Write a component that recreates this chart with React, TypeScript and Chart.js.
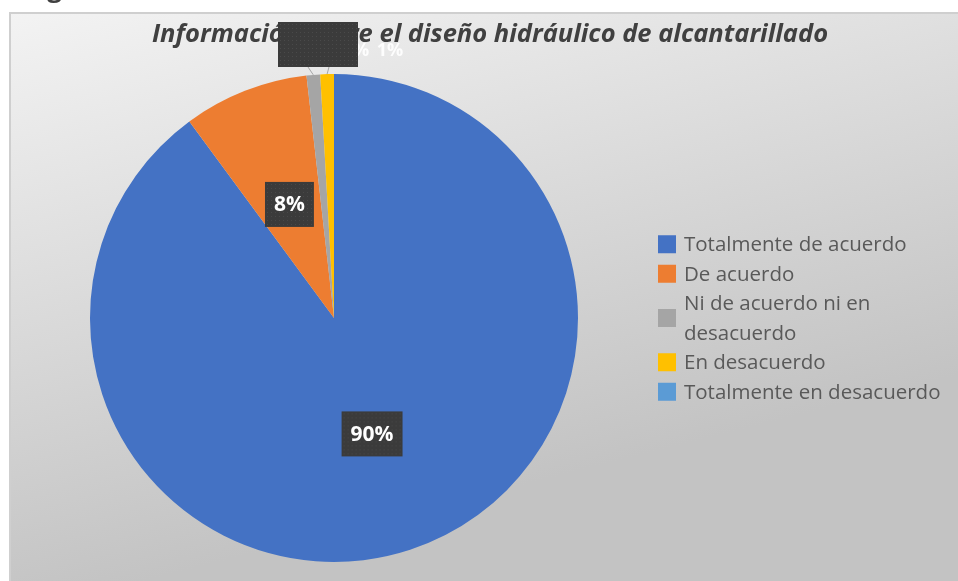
import React, { useEffect, useRef } from "react";
import { Chart, registerables } from "chart.js";

Chart.register(...registerables);

const categories = [
  "Totalmente de acuerdo",
  "De acuerdo",
  "Ni de acuerdo ni en desacuerdo",
  "En desacuerdo",
  "Totalmente en desacuerdo",
];
const values = [89.9, 8.3, 0.9, 0.9, 0];
const valueLabels = ["90%", "8%", "1%", "1%", "0%"];
const colors = ["#4472C4", "#ED7D31", "#A5A5A5", "#FFC000", "#5B9BD5"];
const chartTitle = "Información sobre el diseño hidráulico de alcantarillado";
const figureCaption = "Figura";

const FONT = "'Open Sans', 'DejaVu Sans', sans-serif";

function darkBox(ctx: CanvasRenderingContext2D, x: number, y: number, w: number, h: number) {
  ctx.save();
  ctx.fillStyle = "#3b3b3b";
  ctx.fillRect(x, y, w, h);
  ctx.fillStyle = "#4a4a4a";
  for (let yy = y + 2; yy < y + h - 1; yy += 4) {
    for (let xx = x + 2; xx < x + w - 1; xx += 4) {
      ctx.fillRect(xx, yy, 1, 1);
    }
  }
  ctx.restore();
}

const decorPlugin = {
  id: "decor",
  beforeDraw(chart: any) {
    const ctx: CanvasRenderingContext2D = chart.ctx;
    const W = chart.width;
    const H = chart.height;
    ctx.save();
    ctx.fillStyle = "#ffffff";
    ctx.fillRect(0, 0, W, H);
    const bx = 10, by = 13;
    const g = ctx.createLinearGradient(0, by, W * 0.15, H);
    g.addColorStop(0, "#f3f3f3");
    g.addColorStop(0.5, "#dbdbdb");
    g.addColorStop(1, "#c3c3c3");
    ctx.fillStyle = g;
    ctx.fillRect(bx, by, W - bx, H - by);
    ctx.strokeStyle = "#cfcfcf";
    ctx.lineWidth = 2;
    ctx.beginPath();
    ctx.moveTo(bx, H);
    ctx.lineTo(bx, by);
    ctx.lineTo(W, by);
    ctx.stroke();
    // clipped caption above the chart
    ctx.fillStyle = "#404040";
    ctx.font = `bold 26px ${FONT}`;
    ctx.textBaseline = "alphabetic";
    ctx.textAlign = "left";
    ctx.fillText(figureCaption, 25, -3);
    ctx.restore();
  },
  afterDraw(chart: any) {
    const ctx: CanvasRenderingContext2D = chart.ctx;
    const area = chart.chartArea;
    const meta = chart.getDatasetMeta(0);
    const cx = (area.left + area.right) / 2;
    const cy = (area.top + area.bottom) / 2;
    ctx.save();

    // title
    ctx.fillStyle = "#404040";
    ctx.font = `italic bold 25.5px ${FONT}`;
    ctx.textAlign = "center";
    ctx.textBaseline = "alphabetic";
    ctx.fillText(chartTitle, cx + 156, area.top - 32);

    // data labels inside large slices
    meta.data.forEach((el: any, i: number) => {
      if (values[i] < 5) return;
      const p = el.tooltipPosition();
      ctx.font = `bold 21px ${FONT}`;
      const tw = ctx.measureText(valueLabels[i]).width;
      const w = tw + 18;
      const h = 45;
      darkBox(ctx, p.x - w / 2, p.y - h / 2, w, h);
      ctx.fillStyle = "#ffffff";
      ctx.textAlign = "center";
      ctx.textBaseline = "middle";
      ctx.fillText(valueLabels[i], p.x, p.y + 1);
    });

    // small slice labels outside, with leader lines
    const boxX = cx - 56, boxY = area.top - 52, boxW = 80, boxH = 45;
    const anchors = [cx - 26, cx - 5];
    let k = 0;
    meta.data.forEach((el: any, i: number) => {
      if (values[i] >= 5 || values[i] <= 0) return;
      const pr = el.getProps(["x", "y", "startAngle", "endAngle", "outerRadius"], true);
      const a = (pr.startAngle + pr.endAngle) / 2;
      const px = pr.x + Math.cos(a) * pr.outerRadius;
      const py = pr.y + Math.sin(a) * pr.outerRadius;
      ctx.strokeStyle = "#a6a6a6";
      ctx.lineWidth = 1;
      ctx.beginPath();
      ctx.moveTo(anchors[k], boxY + boxH);
      ctx.lineTo(px, py);
      ctx.stroke();
      ctx.fillStyle = "rgba(255,255,255,0.9)";
      ctx.font = `bold 18px ${FONT}`;
      ctx.textAlign = "center";
      ctx.textBaseline = "middle";
      ctx.fillText(valueLabels[i], cx + 22 + k * 34, area.top - 23);
      k++;
    });
    darkBox(ctx, boxX, boxY, boxW, boxH);

    // legend
    ctx.font = `20.5px ${FONT}`;
    const maxW = ctx.measureText("Totalmente en desacuerdo").width + 4;
    const items: string[][] = categories.map((c) => {
      const words = c.split(" ");
      const lines: string[] = [];
      let cur = "";
      words.forEach((wd) => {
        const t = cur ? cur + " " + wd : wd;
        if (ctx.measureText(t).width > maxW && cur) {
          lines.push(cur);
          cur = wd;
        } else cur = t;
      });
      lines.push(cur);
      return lines;
    });
    const lineH = 29.5;
    const nLines = items.reduce((s, l) => s + l.length, 0);
    let y = cy - ((nLines - 1) / 2) * lineH;
    const lx = area.right + 80;
    items.forEach((lines, i) => {
      const mid = y + ((lines.length - 1) / 2) * lineH;
      ctx.fillStyle = colors[i];
      ctx.fillRect(lx, mid - 9, 18, 18);
      ctx.fillStyle = "#595959";
      ctx.textAlign = "left";
      ctx.textBaseline = "middle";
      lines.forEach((ln, j) => {
        ctx.fillText(ln, lx + 26, y + j * lineH + 1);
      });
      y += lines.length * lineH;
    });
    ctx.restore();
  },
};

export default function App() {
  const ref = useRef<HTMLCanvasElement | null>(null);
  useEffect(() => {
    if (!ref.current) return;
    const chart = new Chart(ref.current, {
      type: "pie",
      data: {
        labels: categories,
        datasets: [
          {
            data: values,
            backgroundColor: colors,
            borderWidth: 0,
          },
        ],
      },
      options: {
        responsive: false,
        animation: false,
        devicePixelRatio: 1,
        rotation: 0,
        layout: { padding: { left: 90, right: 380, top: 74, bottom: 19 } },
        plugins: {
          legend: { display: false },
          tooltip: { enabled: false },
          title: { display: false },
        },
      },
      plugins: [decorPlugin],
    } as any);
    return () => chart.destroy();
  }, []);
  return (
    <div style={{ position: "absolute", left: 0, top: 0, width: 958, height: 581 }}>
      <canvas ref={ref} width={958} height={581} style={{ width: 958, height: 581, display: "block" }} />
    </div>
  );
}
